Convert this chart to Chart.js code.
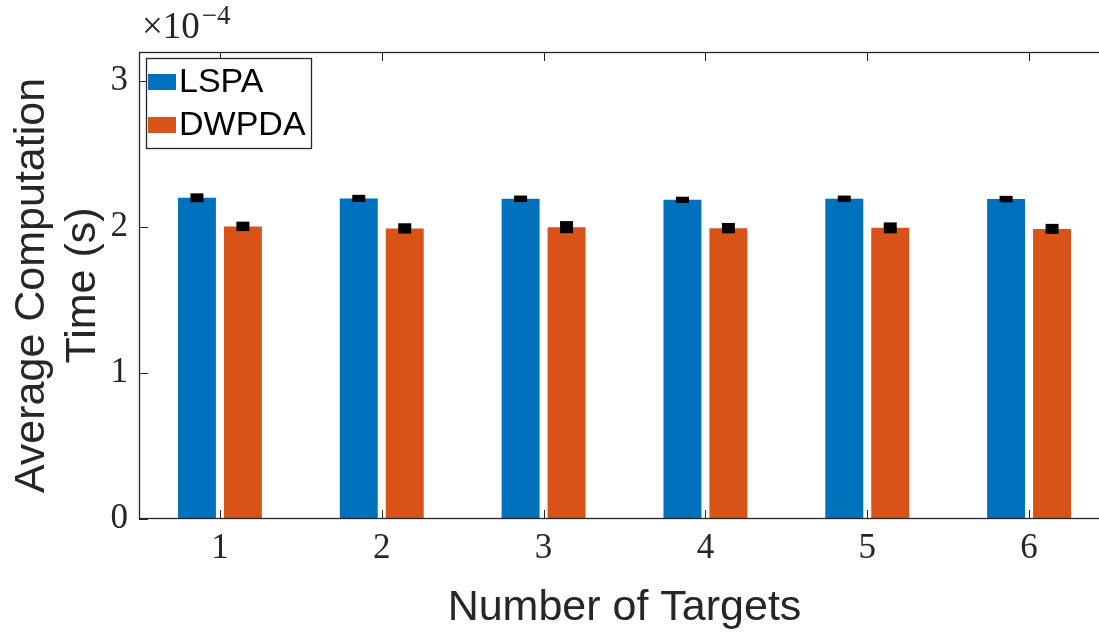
<!DOCTYPE html>
<html>
<head>
<meta charset="utf-8">
<script src="https://cdn.jsdelivr.net/npm/chart.js@4.4.1/dist/chart.umd.min.js"></script>
<style>
  html, body { margin: 0; padding: 0; background: #fff; overflow: hidden; }
  #wrap { width: 1111px; height: 632px; }
</style>
</head>
<body>
<div id="wrap"><canvas id="c" width="1111" height="632"></canvas></div>
<script>
// Average computation time per number of targets, in units of 1e-4 s
const categories = ['1', '2', '3', '4', '5', '6'];
const lspaMean  = [2.201, 2.197, 2.194, 2.187, 2.194, 2.192];
const lspaErr   = [0.018, 0.012, 0.010, 0.009, 0.010, 0.010];
const dwpdaMean = [2.005, 1.991, 2.000, 1.993, 1.995, 1.988];
const dwpdaErr  = [0.020, 0.023, 0.029, 0.023, 0.025, 0.022];
const yTicks = [0, 1, 2, 3];
const seriesNames = ['LSPA', 'DWPDA'];
const seriesColors = ['#0072BD', '#D95319'];
const errors = [lspaErr, dwpdaErr];

const AXIS = '#262626';
const SERIF = "'Liberation Serif', 'DejaVu Serif', serif";
const SANS = "'Liberation Sans', Arial, sans-serif";

// Error bars: short whiskers with thick caps merge into a solid block, drawn through the y scale
const errorBars = {
  id: 'errorBars',
  afterDatasetsDraw(chart) {
    const { ctx, scales: { y } } = chart;
    ctx.save();
    ctx.fillStyle = '#000';
    const cap = 1.8, half = 6.5;
    chart.data.datasets.forEach((ds, i) => {
      const meta = chart.getDatasetMeta(i);
      meta.data.forEach((bar, j) => {
        const v = ds.data[j], e = errors[i][j];
        const top = y.getPixelForValue(v + e) - cap;
        const bot = y.getPixelForValue(v - e) + cap;
        ctx.fillRect(bar.x - half, top, half * 2, bot - top);
      });
    });
    ctx.restore();
  }
};

// Boxed axes with inward tick marks on all four sides
const axesBox = {
  id: 'axesBox',
  afterDatasetsDraw(chart) {
    const { ctx, chartArea: a, scales: { x, y } } = chart;
    const len = 9;
    ctx.save();
    ctx.strokeStyle = AXIS;
    ctx.lineWidth = 1;
    ctx.beginPath();
    x.ticks.forEach((t, i) => {
      const px = Math.round(x.getPixelForTick(i)) + 0.5;
      ctx.moveTo(px, a.bottom); ctx.lineTo(px, a.bottom - len);
      ctx.moveTo(px, a.top); ctx.lineTo(px, a.top + len);
    });
    y.ticks.forEach((t, i) => {
      const py = Math.round(y.getPixelForTick(i)) + 0.5;
      ctx.moveTo(a.left, py); ctx.lineTo(a.left + len, py);
      ctx.moveTo(a.right, py); ctx.lineTo(a.right - len, py);
    });
    ctx.stroke();
    ctx.lineWidth = 1.3;
    ctx.strokeRect(Math.round(a.left) + 0.5, Math.round(a.top) + 0.5,
                   Math.round(a.right - a.left) - 1, Math.round(a.bottom - a.top) - 1);
    ctx.restore();
  }
};

// Exponent label above the y axis and the boxed legend in the upper-left corner
const overlay = {
  id: 'overlay',
  afterDraw(chart) {
    const { ctx, chartArea: a } = chart;
    ctx.save();
    ctx.fillStyle = AXIS;
    ctx.textBaseline = 'alphabetic';
    ctx.textAlign = 'left';
    ctx.font = '37px ' + SERIF;
    ctx.fillText('\u00D710', a.left + 3, 38);
    const w = ctx.measureText('\u00D710').width;
    ctx.font = '27px ' + SERIF;
    ctx.fillText('\u22124', a.left + 5 + w, 24);

    // legend
    const lx = a.left + 7, ly = a.top + 6, lw = 165, lh = 90;
    ctx.fillStyle = '#fff';
    ctx.fillRect(lx, ly, lw, lh);
    ctx.strokeStyle = AXIS;
    ctx.lineWidth = 1.3;
    ctx.strokeRect(lx + 0.5, ly + 0.5, lw, lh);
    ctx.font = '34px ' + SANS;
    ctx.textBaseline = 'middle';
    chart.data.datasets.forEach((ds, i) => {
      const cy = ly + 24 + i * 43;
      ctx.fillStyle = ds.backgroundColor;
      ctx.fillRect(lx + 2, cy - 8, 28, 16);
      ctx.fillStyle = '#000';
      ctx.fillText(ds.label, lx + 33, cy + 1);
    });
    ctx.restore();
  }
};

new Chart(document.getElementById('c'), {
  type: 'bar',
  data: {
    labels: categories,
    datasets: [
      { label: seriesNames[0], data: lspaMean, backgroundColor: seriesColors[0], borderWidth: 0 },
      { label: seriesNames[1], data: dwpdaMean, backgroundColor: seriesColors[1], borderWidth: 0 }
    ]
  },
  options: {
    responsive: false,
    animation: false,
    devicePixelRatio: 1,
    layout: { padding: { top: 52, right: 1, left: 0, bottom: 0 } },
    datasets: { bar: { categoryPercentage: 0.568, barPercentage: 0.826 } },
    plugins: { legend: { display: false }, tooltip: { enabled: false } },
    scales: {
      x: {
        offset: true,
        grid: { display: false, drawTicks: false },
        border: { display: false },
        ticks: { color: AXIS, padding: 9, font: { family: SERIF, size: 35 } },
        title: {
          display: true, text: 'Number of Targets', color: AXIS,
          font: { family: SANS, size: 43 }, padding: { top: 0, bottom: -2 }
        },
        afterFit(s) { s.height = 113; }
      },
      y: {
        min: 0, max: 3.2,
        grid: { display: false, drawTicks: false },
        border: { display: false },
        afterBuildTicks(s) { s.ticks = yTicks.map(v => ({ value: v })); },
        ticks: { color: AXIS, padding: 11, font: { family: SERIF, size: 35 } },
        title: {
          display: true, text: ['Average Computation', 'Time (s)'], color: AXIS,
          font: { family: SANS, size: 43 }, padding: { top: 6, bottom: 0 }
        },
        afterFit(s) { s.width = 139; }
      }
    }
  },
  plugins: [errorBars, axesBox, overlay]
});
</script>
</body>
</html>
